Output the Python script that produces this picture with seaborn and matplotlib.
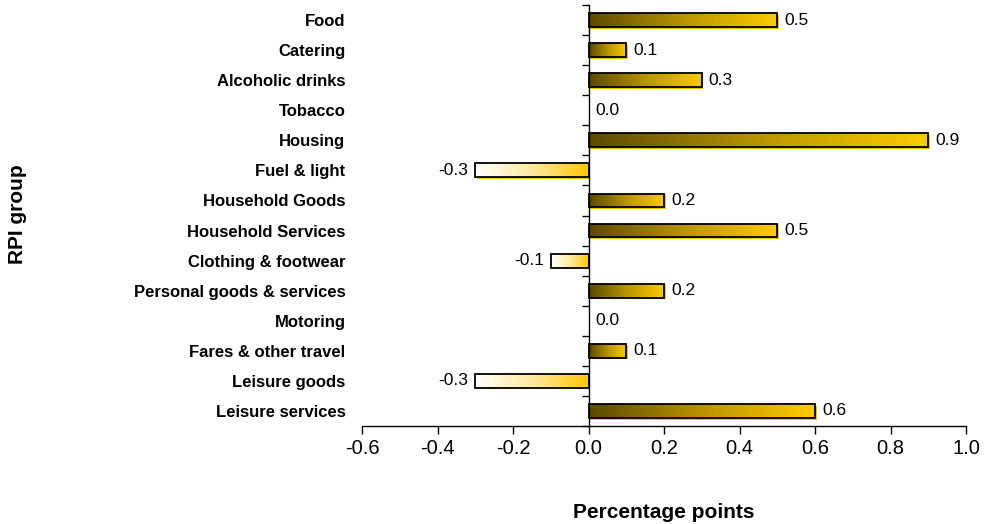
import numpy as np
import pandas as pd
import matplotlib
matplotlib.use("Agg")
import matplotlib.pyplot as plt
from matplotlib.colors import LinearSegmentedColormap
from matplotlib.patches import Rectangle
import matplotlib.transforms as mtransforms
import seaborn as sns

groups = ["Food", "Catering", "Alcoholic drinks", "Tobacco", "Housing",
          "Fuel & light", "Household Goods", "Household Services",
          "Clothing & footwear", "Personal goods & services", "Motoring",
          "Fares & other travel", "Leisure goods", "Leisure services"]
contrib = [0.5, 0.1, 0.3, 0.0, 0.9, -0.3, 0.2, 0.5, -0.1, 0.2, 0.0, 0.1, -0.3, 0.6]
xticks = [-0.6, -0.4, -0.2, 0.0, 0.2, 0.4, 0.6, 0.8, 1.0]

df = pd.DataFrame({"group": groups, "value": contrib})

sns.set_theme(style="white")
plt.rcParams["font.family"] = ["Liberation Sans", "DejaVu Sans"]
plt.rcParams["text.color"] = "black"
plt.rcParams["xtick.color"] = "black"
plt.rcParams["ytick.color"] = "black"
plt.rcParams["axes.labelcolor"] = "black"

fig = plt.figure(figsize=(9.87, 5.24), dpi=100)
ax = fig.add_axes([362 / 987, 1 - 426 / 524, 604 / 987, 421 / 524])

sns.barplot(data=df, x="value", y="group", orient="h", ax=ax,
            width=0.46, color="white", edgecolor="black", linewidth=1.3,
            zorder=3)

pos_cmap = LinearSegmentedColormap.from_list("pos", ["#5a4a00", "#b89400", "#ffcc00"])
neg_cmap = LinearSegmentedColormap.from_list("neg", ["#ffffff", "#ffe9a0", "#ffc800"])
grad = np.linspace(0, 1, 256).reshape(1, -1)

shadow_off = mtransforms.offset_copy(ax.transData, fig=fig, x=1.2, y=-1.2, units="points")

for patch, v in zip(ax.patches, contrib):
    patch.set_facecolor("none")
    x0, y0 = patch.get_x(), patch.get_y()
    w, h = patch.get_width(), patch.get_height()
    if abs(w) < 1e-9:
        patch.set_visible(False)
        continue
    left, right = min(x0, x0 + w), max(x0, x0 + w)
    cmap = pos_cmap if v > 0 else neg_cmap
    img = ax.imshow(grad, cmap=cmap, aspect="auto",
                    extent=(left, right, y0 + h, y0), zorder=2,
                    interpolation="bilinear")
    img.set_clip_path(patch)
    shadow = Rectangle((left, y0), right - left, h, transform=shadow_off,
                       facecolor="#f2c200", edgecolor="none", zorder=1.5)
    ax.add_patch(shadow)

# value labels
for i, v in enumerate(contrib):
    if v >= 0:
        ax.annotate(f"{v:.1f}", (v, i), xytext=(5, 0), textcoords="offset points",
                    ha="left", va="center", fontsize=12.5, color="black")
    else:
        ax.annotate(f"{v:.1f}", (v, i), xytext=(-5, 0), textcoords="offset points",
                    ha="right", va="center", fontsize=12.5, color="black")

ax.set_xlim(-0.6, 1.0)
ax.set_ylim(len(groups) - 0.5, -0.5)
ax.set_xticks(xticks)
ax.set_xticklabels([f"{t:.1f}" for t in xticks], fontsize=14.5)

for s in ["top", "right"]:
    ax.spines[s].set_visible(False)
ax.spines["left"].set_position(("data", 0))
ax.spines["left"].set_zorder(4)
for s in ["left", "bottom"]:
    ax.spines[s].set_color("black")
    ax.spines[s].set_linewidth(1.0)

ax.set_yticks(range(len(groups)))
ax.set_yticklabels(groups, fontsize=12, fontweight="bold")
ax.set_yticks(np.arange(-0.5, len(groups), 1.0), minor=True)
ax.tick_params(axis="y", which="major", left=True, length=0, pad=175)
ax.tick_params(axis="y", which="minor", left=True, length=5, direction="out",
               width=1.0, color="black")
ax.tick_params(axis="x", which="major", bottom=True, length=6, direction="out",
               width=1.0, color="black", pad=3)

ax.set_xlabel("")
ax.set_ylabel("")
fig.text(664 / 987, 1 - 513 / 524, "Percentage points", ha="center", va="center",
         fontsize=15, fontweight="bold")
fig.text(18 / 987, 1 - 214 / 524, "RPI group", rotation=90, ha="center", va="center",
         fontsize=15, fontweight="bold")

fig.savefig("out.png", dpi=100)
